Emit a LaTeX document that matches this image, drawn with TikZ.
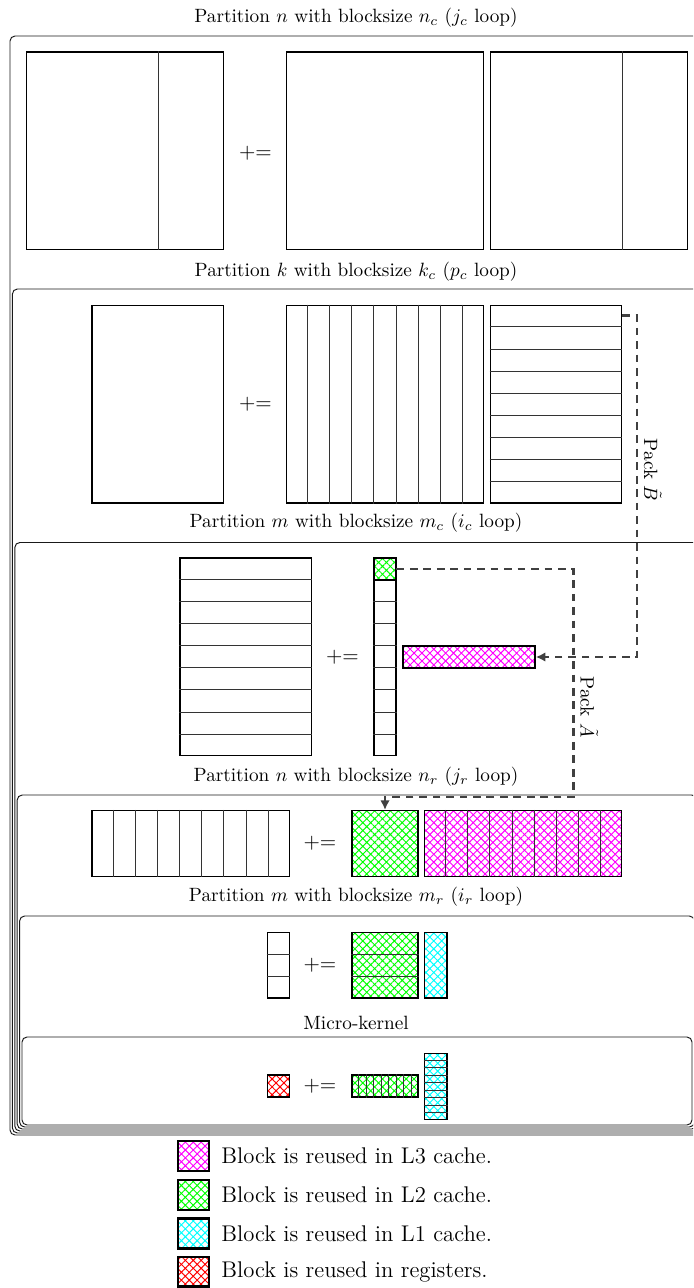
\documentclass[tikz,border=0pt]{standalone}
\usetikzlibrary{patterns.meta,arrows.meta,calc,fit}
\newcommand{\matcols}[2]{\foreach \i in {1,...,#2}{\draw[sep] ($(#1.north west)!\i/(#2+1)!(#1.north east)$) -- ($(#1.south west)!\i/(#2+1)!(#1.south east)$);}}
\newcommand{\matrows}[2]{\foreach \i in {1,...,#2}{\draw[sep] ($(#1.north west)!\i/(#2+1)!(#1.south west)$) -- ($(#1.north east)!\i/(#2+1)!(#1.south east)$);}}
\newcommand{\pluseq}{$\mathord{+}\mathord{=}$}
\begin{document}
\begin{tikzpicture}[x=0.52pt,y=-0.52pt,
  mat/.style={draw=black, line width=0.8pt, inner sep=0pt},
  sep/.style={draw=black!80, line width=0.45pt},
  frame/.style={draw=black!90, line width=0.5pt, inner sep=0pt, rounded corners=2.6pt},
  hl3/.style={pattern={Hatch[angle=45,distance=2.9pt,line width=0.5pt]}, pattern color=magenta},
  hl2/.style={pattern={Hatch[angle=45,distance=2.9pt,line width=0.5pt]}, pattern color=green},
  hl1/.style={pattern={Hatch[angle=45,distance=2.9pt,line width=0.5pt]}, pattern color=cyan},
  hreg/.style={pattern={Hatch[angle=45,distance=2.9pt,line width=0.5pt]}, pattern color=red},
  lab/.style={font=\fontsize{10}{12}\selectfont, inner sep=1pt},
  pe/.style={font=\fontsize{11.3}{13}\selectfont, inner sep=0pt},
  packline/.style={draw=black!75, line width=1.5pt, dash pattern=on 4pt off 3pt},
  packlab/.style={font=\fontsize{10}{12}\selectfont, rotate=-90, anchor=south},
  swatch/.style={draw=black, line width=1.2pt, inner sep=0pt},
  legtext/.style={font=\fontsize{11.8}{14}\selectfont, anchor=west, inner sep=0pt}
]
\clip (0,0) rectangle (693,1288);

% nested frames
\node[frame, fit={(10,36)(704,1135)}] (f1) {};
\node[frame, fit={(12.4,289)(701.6,1133)}] (f2) {};
\node[frame, fit={(14.8,542.5)(699.2,1131)}] (f3) {};
\node[frame, fit={(17.2,795)(696.8,1129)}] (f4) {};
\node[frame, fit={(19.6,916)(694.4,1127)}] (f5) {};
\node[frame, fit={(22,1037)(692,1125)}] (f6) {};

% labels
\node[lab] (t1) at (356,18) {Partition $n$ with blocksize $n_c$ ($j_c$ loop)};
\node[lab] (t2) at (356,272) {Partition $k$ with blocksize $k_c$ ($p_c$ loop)};
\node[lab] (t3) at (356,523) {Partition $m$ with blocksize $m_c$ ($i_c$ loop)};
\node[lab] (t4) at (356,777) {Partition $n$ with blocksize $n_r$ ($j_r$ loop)};
\node[lab] (t5) at (356,897) {Partition $m$ with blocksize $m_r$ ($i_r$ loop)};
\node[lab] (t6) at (356,1023) {Micro-kernel};

% level 1
\node[mat, fit={(26.5,52)(223.6,249.5)}] (C1) {};
\draw[sep] ($(C1.north west)!2/3!(C1.north east)$) -- ($(C1.south west)!2/3!(C1.south east)$);
\node[pe] (p1) at (255.5,153) {\pluseq};
\node[mat, fit={(286.4,52)(483.5,249.5)}] (A1) {};
\node[mat, fit={(490.5,52)(687.6,249.5)}] (B1) {};
\draw[sep] ($(B1.north west)!2/3!(B1.north east)$) -- ($(B1.south west)!2/3!(B1.south east)$);

% level 2
\node[mat, fit={(92,305.5)(223.6,503)}] (C2) {};
\node[pe] (p2) at (255.5,404) {\pluseq};
\node[mat, fit={(286.4,305.5)(483.5,503)}] (A2) {};
\matcols{A2}{8}
\node[mat, fit={(490.5,305.5)(621.3,503)}] (B2) {};
\matrows{B2}{8}

% level 3
\node[mat, fit={(180,558)(311.5,755.5)}] (C3) {};
\matrows{C3}{8}
\node[pe] (p3) at (342.5,657) {\pluseq};
\node[mat, fit={(374,558)(396,755.5)}] (A3) {};
\matrows{A3}{8}
\node[mat, hl2, fit={(374,558)(396,580)}] (A3t) {};
\node[mat, hl3, fit={(403,646)(535,668)}] (B3) {};

% level 4
\node[mat, fit={(92,810.7)(289.5,876.5)}] (C4) {};
\matcols{C4}{8}
\node[pe] (p4) at (320,843) {\pluseq};
\node[mat, hl2, fit={(352,810.7)(418,876.5)}] (A4) {};
\node[mat, hl3, fit={(424.5,810.7)(621.5,876.5)}] (B4) {};
\matcols{B4}{8}

% level 5
\node[mat, fit={(267.5,932.3)(289.5,998)}] (C5) {};
\matrows{C5}{2}
\node[pe] (p5) at (320,965) {\pluseq};
\node[mat, hl2, fit={(352,932.3)(418,998)}] (A5) {};
\matrows{A5}{2}
\node[mat, hl1, fit={(424.5,932.3)(447,998)}] (B5) {};

% level 6
\node[mat, hreg, fit={(267.5,1075)(289.5,1097)}] (C6) {};
\node[pe] (p6) at (320,1086) {\pluseq};
\node[mat, hl2, fit={(352,1075)(418,1097)}] (A6) {};
\matcols{A6}{8}
\node[mat, hl1, fit={(424.5,1053.3)(447,1119.3)}] (B6) {};
\matrows{B6}{8}

% pack B
\coordinate (b2r1) at ($(B2.north east)!1/18!(B2.south east)$);
\coordinate (pbx) at (637,0);
\draw[packline, -{Latex[length=5pt,width=5pt]}] (b2r1) -- (b2r1 -| pbx) -- (pbx |- B3.east) -- (B3.east);
\node[packlab] (lpb) at (637,470) {Pack $\tilde{B}$};

% pack A
\coordinate (a3r1) at (A3t.east);
\coordinate (pax) at (573.6,0);
\coordinate (pay) at (0,797);
\draw[packline, -{Latex[length=5pt,width=5pt]}] (a3r1) -- (a3r1 -| pax) -- (pax |- pay) -- (A4.north |- pay) -- (A4.north);
\node[packlab] (lpa) at (573.6,707) {Pack $\tilde{A}$};

% legend
\node[swatch, hl3, fit={(178,1141)(209,1171)}] (s3) {};
\node[legtext] (l3) at (221,1156) {Block is reused in L3 cache.};
\node[swatch, hl2, fit={(178,1180)(209,1210)}] (s2) {};
\node[legtext] (l2) at (221,1195) {Block is reused in L2 cache.};
\node[swatch, hl1, fit={(178,1218.5)(209,1248.5)}] (s1) {};
\node[legtext] (l1) at (221,1233.5) {Block is reused in L1 cache.};
\node[swatch, hreg, fit={(178,1257)(209,1286.5)}] (s0) {};
\node[legtext] (l0) at (221,1272) {Block is reused in registers.};
\end{tikzpicture}
\end{document}
